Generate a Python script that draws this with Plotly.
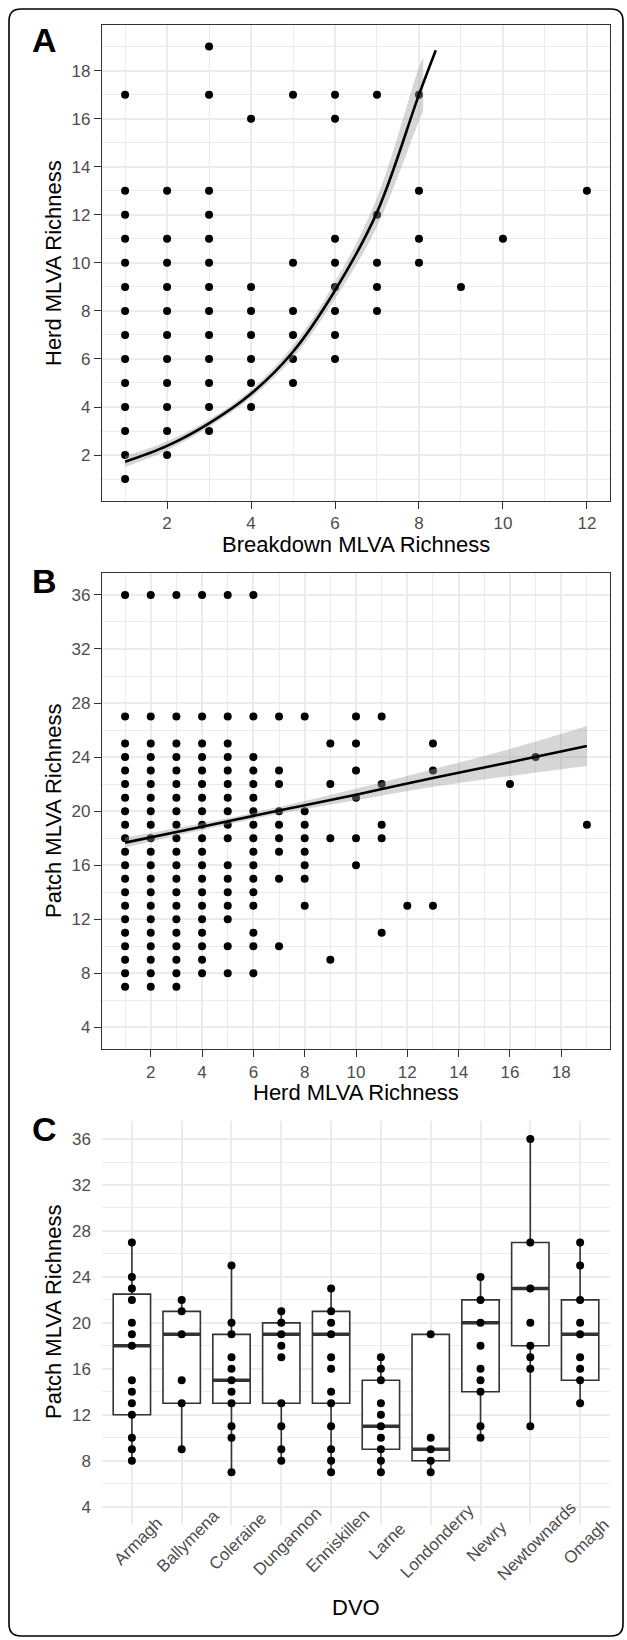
import plotly.graph_objects as go

# ---------------- Data ----------------
# Panel A: Breakdown MLVA richness (x) vs Herd MLVA richness (y)
a_cols_x = [1, 2, 3, 4, 5, 6, 7, 8, 9, 10, 12]
a_cols_y = [
    [17, 13, 12, 11, 10, 9, 8, 7, 6, 5, 4, 3, 2, 1],
    [13, 11, 10, 9, 8, 7, 6, 5, 4, 3, 2],
    [19, 17, 13, 12, 11, 10, 9, 8, 7, 6, 5, 4, 3],
    [16, 9, 8, 7, 6, 5, 4],
    [17, 10, 8, 7, 6, 5],
    [17, 16, 11, 10, 9, 8, 7, 6],
    [17, 12, 10, 9, 8],
    [17, 13, 11, 10],
    [9],
    [11],
    [13],
]
a_fit_x = [1, 2, 3, 4, 5, 6, 7, 8, 8.4]
a_fit_y = [1.72, 2.38, 3.32, 4.55, 6.3, 8.85, 12.1, 17.0, 18.85]
a_band_x = [1, 2, 3, 4, 5, 6, 7, 8, 8.1]
a_band_lo = [1.5, 2.2, 3.17, 4.38, 6.05, 8.5, 11.5, 15.9, 16.3]
a_band_hi = [1.95, 2.57, 3.48, 4.72, 6.55, 9.2, 12.7, 18.15, 18.55]

# Panel B: Herd MLVA richness (x) vs Patch MLVA richness (y)
b_rows_y = [36, 27, 25, 24, 23, 22, 21, 20, 19, 18, 17, 16, 15, 14, 13, 12, 11, 10, 9, 8, 7]
b_rows_x = [
    [1, 2, 3, 4, 5, 6],
    [1, 2, 3, 4, 5, 6, 7, 8, 10, 11],
    [1, 2, 3, 4, 5, 9, 10, 13],
    [1, 2, 3, 4, 5, 6, 17],
    [1, 2, 3, 4, 5, 6, 7, 10, 13],
    [1, 2, 3, 4, 5, 6, 7, 9, 11, 16],
    [1, 2, 3, 4, 5, 6, 10],
    [1, 2, 3, 4, 5, 6, 7, 8],
    [1, 2, 3, 4, 5, 6, 7, 8, 11, 19],
    [1, 2, 3, 4, 5, 6, 7, 8, 9, 10, 11],
    [1, 2, 3, 4, 6, 7, 8],
    [1, 2, 3, 4, 5, 6, 8, 10],
    [1, 2, 3, 4, 5, 6, 7, 8],
    [1, 2, 3, 4, 5, 6],
    [1, 2, 3, 4, 5, 6, 8, 12, 13],
    [1, 2, 3, 4, 5],
    [1, 2, 3, 4, 6, 11],
    [1, 2, 3, 4, 5, 6, 7],
    [1, 2, 3, 4, 9],
    [1, 2, 3, 4, 5, 6],
    [1, 2, 3],
]
b_fit_x = [1, 4, 7, 10, 13, 16, 19]
b_fit_y = [17.67, 18.85, 20.05, 21.22, 22.45, 23.62, 24.82]
b_band_lo = [17.3, 18.6, 19.8, 20.8, 21.8, 22.6, 23.35]
b_band_hi = [18.05, 19.1, 20.3, 21.65, 23.1, 24.6, 26.3]

# Panel C: Patch MLVA richness by DVO
dvo = ["Armagh", "Ballymena", "Coleraine", "Dungannon", "Enniskillen",
       "Larne", "Londonderry", "Newry", "Newtownards", "Omagh"]
c_points = [
    [27, 24, 23, 22, 20, 19, 18, 15, 14, 13, 12, 10, 9, 8],
    [22, 21, 19, 15, 13, 9],
    [25, 20, 19, 17, 16, 15, 14, 13, 11, 10, 7],
    [21, 20, 19, 18, 17, 13, 11, 9, 8],
    [23, 21, 20, 19, 17, 16, 14, 13, 11, 9, 8, 7],
    [17, 16, 15, 13, 12, 11, 10, 9, 8, 7],
    [19, 10, 9, 8, 7],
    [24, 22, 20, 18, 16, 15, 14, 11, 10],
    [36, 27, 23, 20, 18, 17, 16, 11],
    [27, 25, 22, 20, 19, 17, 16, 15, 13],
]
c_q1 = [12, 13, 13, 13, 13, 9, 8, 14, 18, 15]
c_med = [18, 19, 15, 19, 19, 11, 9, 20, 23, 19]
c_q3 = [22.5, 21, 19, 20, 21, 15, 19, 22, 27, 22]
c_lo = [8, 9, 7, 8, 7, 7, 7, 10, 11, 13]
c_hi = [27, 22, 25, 21, 23, 17, 19, 24, 36, 27]

# ---------------- Layout helpers ----------------
W, H = 627, 1640
FONT = "Liberation Sans, Arial, sans-serif"
def fx(p):
    return p / W
def fy(p):
    return 1 - p / H

XDOM = [fx(102), fx(610)]
A_DOM = [fy(500.7), fy(25)]
B_DOM = [fy(1049), fy(573.3)]
C_DOM = [fy(1525), fy(1120.7)]

fig = go.Figure()
band_fill = "rgba(153,153,153,0.4)"
mk = dict(color="black", size=8)

# Panel A
ax, ay = [], []
for xv, ys in zip(a_cols_x, a_cols_y):
    for yv in ys:
        ax.append(xv)
        ay.append(yv)
fig.add_trace(go.Scatter(x=ax, y=ay, mode="markers", marker=mk, xaxis="x", yaxis="y"))
fig.add_trace(go.Scatter(x=a_band_x, y=a_band_lo, mode="lines", line=dict(width=0, shape="spline"),
                         xaxis="x", yaxis="y"))
fig.add_trace(go.Scatter(x=a_band_x, y=a_band_hi, mode="lines", line=dict(width=0, shape="spline"),
                         fill="tonexty", fillcolor=band_fill, xaxis="x", yaxis="y"))
fig.add_trace(go.Scatter(x=a_fit_x, y=a_fit_y, mode="lines",
                         line=dict(color="black", width=2.6, shape="spline"), xaxis="x", yaxis="y"))

# Panel B
bx, by = [], []
for yv, xs in zip(b_rows_y, b_rows_x):
    for xv in xs:
        bx.append(xv)
        by.append(yv)
fig.add_trace(go.Scatter(x=bx, y=by, mode="markers", marker=mk, xaxis="x2", yaxis="y2"))
fig.add_trace(go.Scatter(x=b_fit_x, y=b_band_lo, mode="lines", line=dict(width=0, shape="spline"),
                         xaxis="x2", yaxis="y2"))
fig.add_trace(go.Scatter(x=b_fit_x, y=b_band_hi, mode="lines", line=dict(width=0, shape="spline"),
                         fill="tonexty", fillcolor=band_fill, xaxis="x2", yaxis="y2"))
fig.add_trace(go.Scatter(x=b_fit_x, y=b_fit_y, mode="lines",
                         line=dict(color="black", width=2.6, shape="spline"), xaxis="x2", yaxis="y2"))

# Panel C
pos = list(range(1, len(dvo) + 1))
fig.add_trace(go.Box(x=pos, q1=c_q1, median=c_med, q3=c_q3, lowerfence=c_lo, upperfence=c_hi,
                     width=0.75, whiskerwidth=0, fillcolor="white",
                     line=dict(color="#333333", width=1.6), boxpoints=False,
                     xaxis="x3", yaxis="y3"))
mx, my = [], []
for p, m in zip(pos, c_med):
    mx += [p - 0.375, p + 0.375, None]
    my += [m, m, None]
fig.add_trace(go.Scatter(x=mx, y=my, mode="lines", line=dict(color="#333333", width=3.5),
                         xaxis="x3", yaxis="y3"))
cx, cy = [], []
for p, pts in zip(pos, c_points):
    for v in pts:
        cx.append(p)
        cy.append(v)
fig.add_trace(go.Scatter(x=cx, y=cy, mode="markers", marker=mk, xaxis="x3", yaxis="y3"))

# ---------------- Axes ----------------
grid = "#EBEBEB"
tickfont = dict(family=FONT, size=17, color="#4D4D4D")
def frame_axis(domain, anchor, rng, dtick, mdtick):
    return dict(domain=domain, anchor=anchor, range=rng, dtick=dtick, tick0=0,
                showgrid=True, gridcolor=grid, gridwidth=2, zeroline=False,
                minor=dict(dtick=mdtick, tick0=0, showgrid=True, gridcolor=grid, gridwidth=1),
                showline=True, mirror=True, linecolor="#333333", linewidth=1.3,
                ticks="outside", ticklen=7, tickwidth=1.3, tickcolor="#333333",
                tickfont=tickfont)

fig.update_layout(
    xaxis=frame_axis(XDOM, "y", [0.45, 12.55], 2, 1),
    yaxis=frame_axis(A_DOM, "x", [0.1, 19.9], 2, 1),
    xaxis2=frame_axis(XDOM, "y2", [0.1, 19.9], 2, 1),
    yaxis2=frame_axis(B_DOM, "x2", [2.4, 37.6], 4, 2),
    xaxis3=dict(domain=XDOM, anchor="y3", range=[0.4, 10.6], tickvals=pos,
                showticklabels=False, ticks="", showgrid=True, gridcolor=grid,
                gridwidth=2, zeroline=False, showline=False),
    yaxis3=dict(domain=C_DOM, anchor="x3", range=[2.4, 37.6], dtick=4, tick0=0,
                showgrid=True, gridcolor=grid, gridwidth=2, zeroline=False,
                minor=dict(dtick=2, tick0=0, showgrid=True, gridcolor=grid, gridwidth=1),
                showline=False, ticks="", ticklabelstandoff=10, tickfont=tickfont),
)

# ---------------- Annotations ----------------
ann = []
def txt(text, xp, yp, size, color="black", angle=0):
    ann.append(dict(text=text, x=fx(xp), y=fy(yp), xref="paper", yref="paper",
                    xanchor="center", yanchor="middle", showarrow=False, textangle=angle,
                    font=dict(family=FONT, size=size, color=color)))

txt("<b>A</b>", 44, 40, 34)
txt("<b>B</b>", 44, 581, 34)
txt("<b>C</b>", 44, 1129, 34)
txt("Breakdown MLVA Richness", 356, 544, 22)
txt("Herd MLVA Richness", 356, 1092, 22)
txt("DVO", 356, 1607, 22)
txt("Herd MLVA Richness", 53, 263, 22, angle=-90)
txt("Patch MLVA Richness", 53, 811, 22, angle=-90)
txt("Patch MLVA Richness", 53, 1312, 22, angle=-90)
for p, name in zip(pos, dvo):
    ann.append(dict(text=name, x=p, y=fy(1541), xref="x3", yref="paper", xshift=6,
                    xanchor="center", yanchor="middle", showarrow=False, textangle=-45,
                    font=dict(family=FONT, size=17, color="#4D4D4D")))

# Outer rounded frame
x0, y0, x1, y1, r = 9, 9, 623, 1636, 12
def P(xp, yp):
    return f"{fx(xp):.5f},{fy(yp):.5f}"
path = (f"M {P(x0 + r, y0)} L {P(x1 - r, y0)} Q {P(x1, y0)} {P(x1, y0 + r)} "
        f"L {P(x1, y1 - r)} Q {P(x1, y1)} {P(x1 - r, y1)} L {P(x0 + r, y1)} "
        f"Q {P(x0, y1)} {P(x0, y1 - r)} L {P(x0, y0 + r)} Q {P(x0, y0)} {P(x0 + r, y0)} Z")

fig.update_layout(
    width=W, height=H, margin=dict(l=0, r=0, t=0, b=0),
    paper_bgcolor="white", plot_bgcolor="white", showlegend=False,
    annotations=ann,
    shapes=[dict(type="path", path=path, xref="paper", yref="paper",
                 line=dict(color="black", width=1.6))],
    font=dict(family=FONT),
)

fig.write_html("out.html", config={"displayModeBar": False},
               post_script="document.body.style.margin='0px';document.body.style.overflow='hidden';")
